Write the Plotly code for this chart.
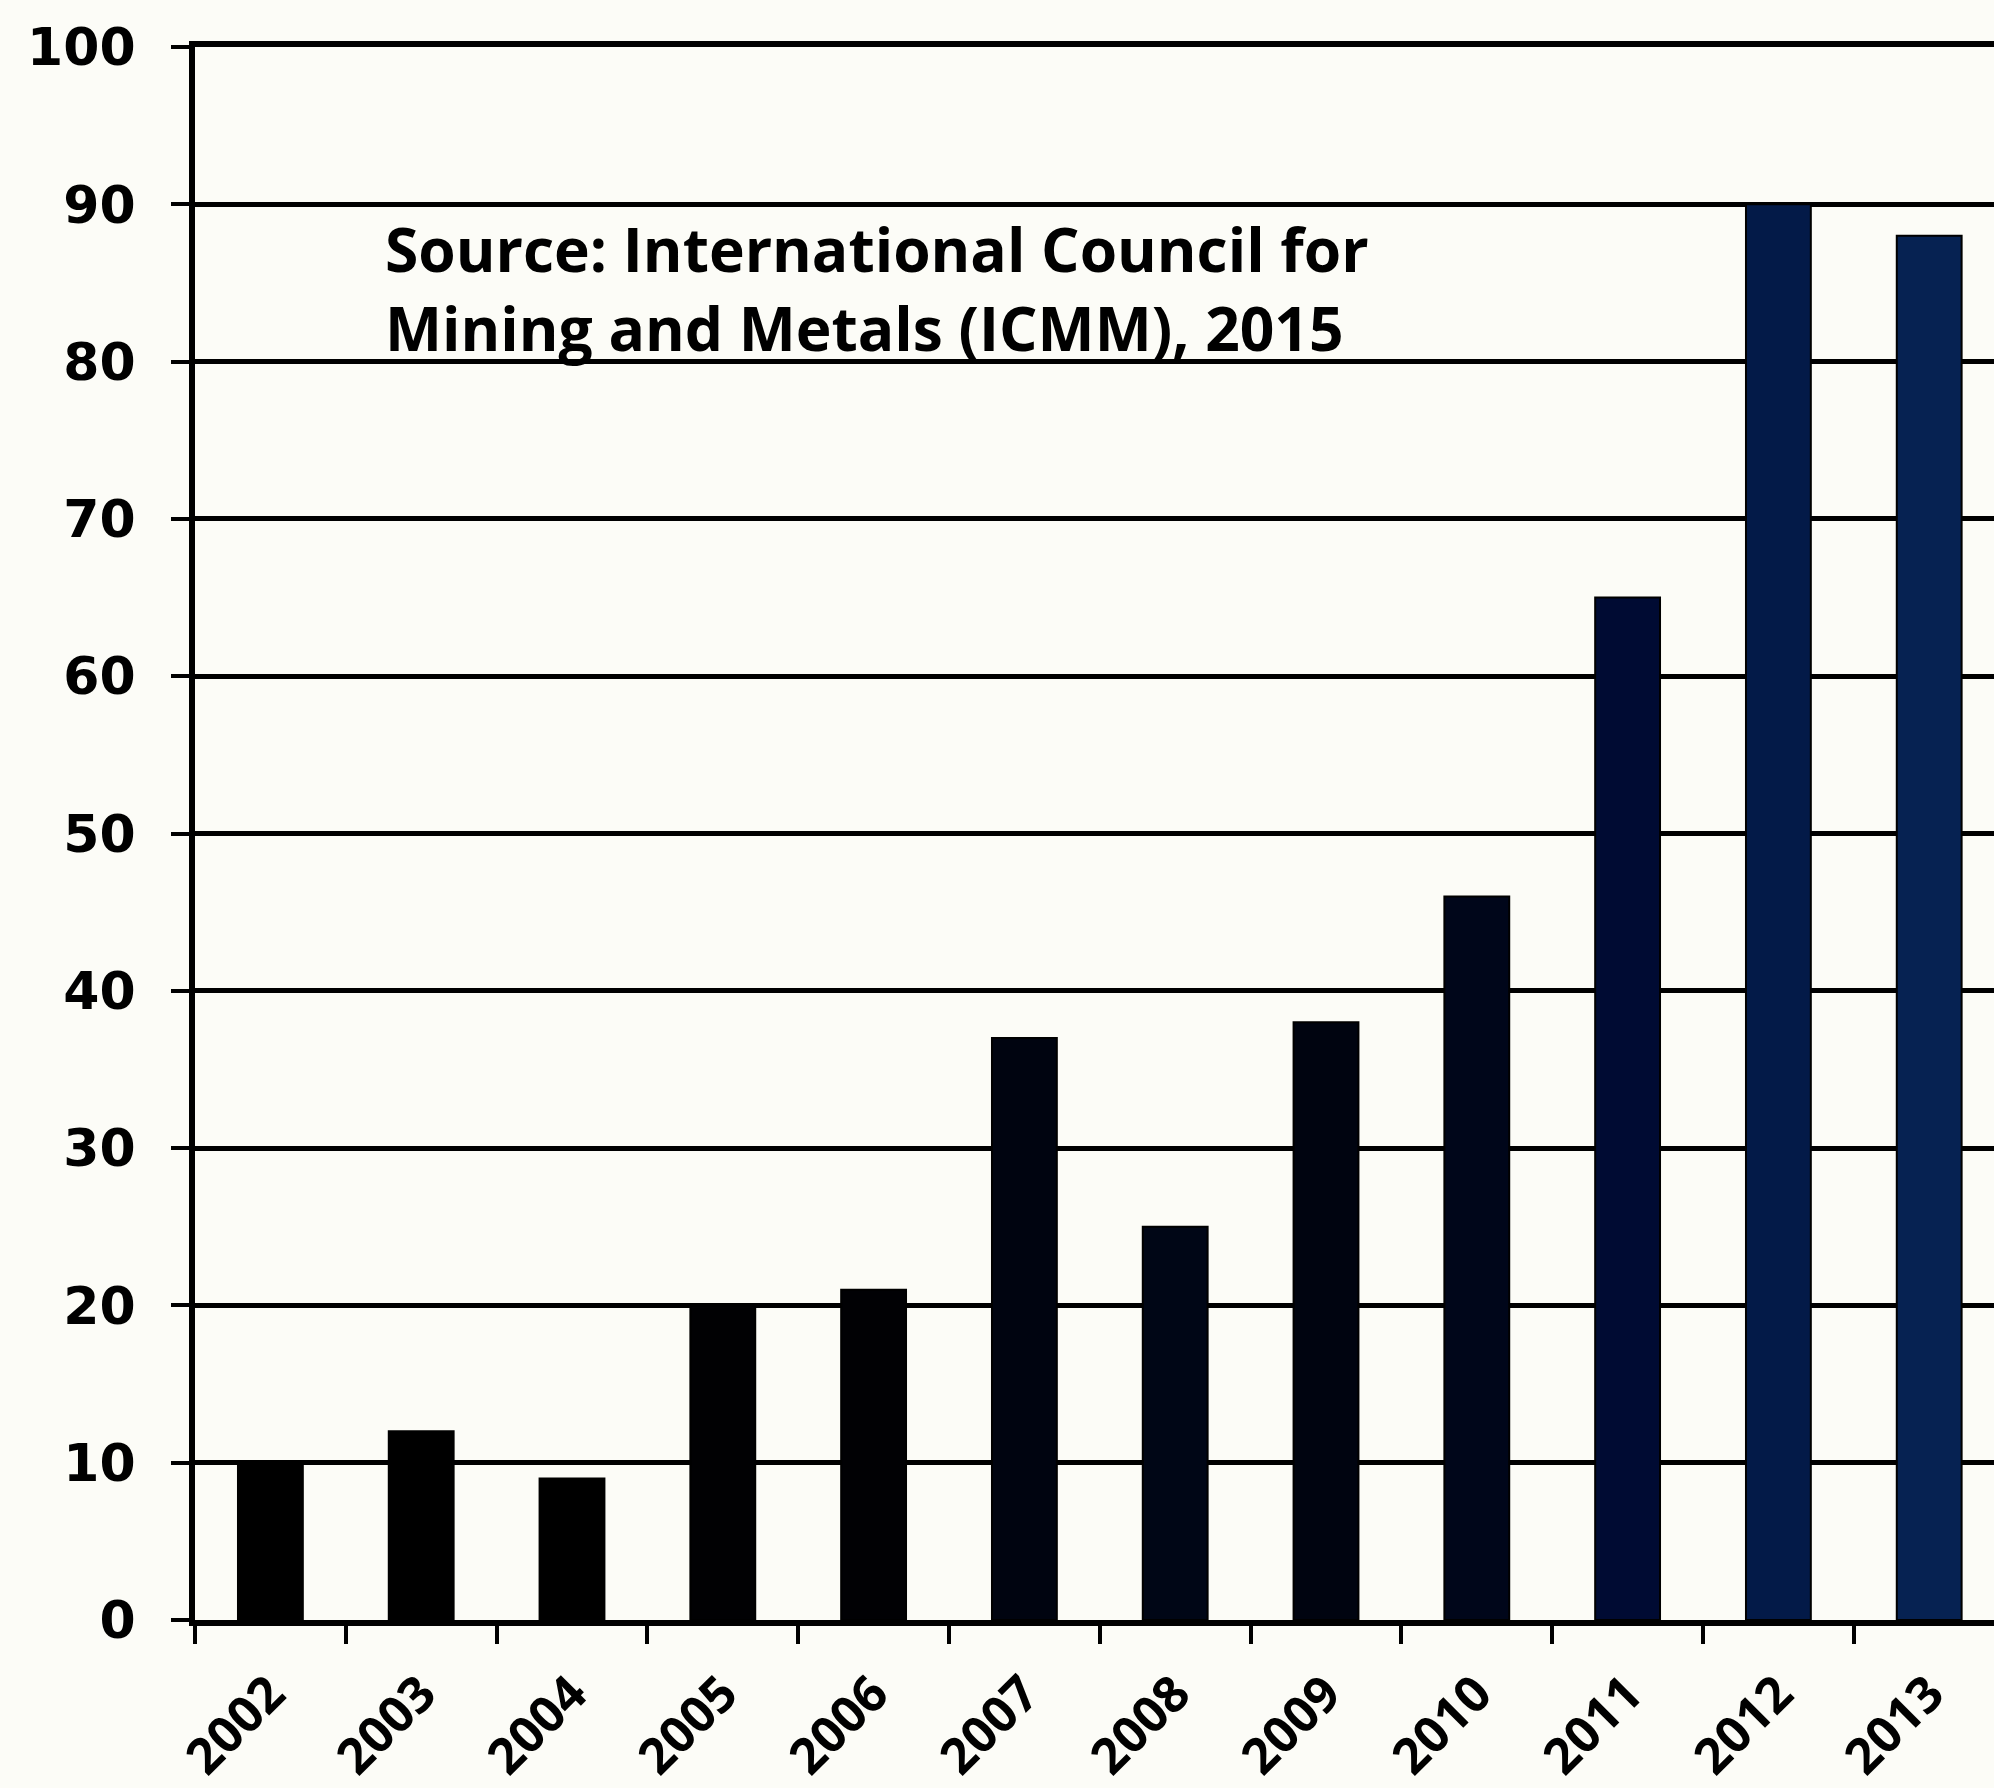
import plotly.graph_objects as go

# Annual values by year
years = ["2002", "2003", "2004", "2005", "2006", "2007",
         "2008", "2009", "2010", "2011", "2012", "2013"]
values = [10, 12, 9, 20, 21, 37, 25, 38, 46, 65, 90, 88]

y_ticks = [0, 10, 20, 30, 40, 50, 60, 70, 80, 90, 100]

source_text = ("Source: International Council for<br>"
               "Mining and Metals (ICMM), 2015")

# bar fills darken from navy to black going back in time
bar_colors = ["#000000", "#000000", "#000000", "#010103", "#010104",
              "#000410", "#000616", "#000410", "#00061a",
              "#000b33", "#031a48", "#062252"]

BG = "#fcfcf7"
W, H = 1994, 1788

fig = go.Figure()
fig.add_trace(go.Bar(
    x=years,
    y=values,
    width=0.43,
    marker=dict(color=bar_colors, line=dict(color="#000000", width=2)),
    showlegend=False,
))

fig.add_annotation(
    text=source_text,
    xref="paper", yref="paper",
    x=(383 - 195) / (W - 195), y=(1624 - 205) / (1624 - 47),
    xanchor="left", yanchor="top", align="left",
    showarrow=False,
    font=dict(family="Open Sans", size=60.5, color="#000000", weight="bold"),
)

fig.update_layout(
    width=W, height=H,
    margin=dict(l=195, r=0, t=47, b=164),
    paper_bgcolor=BG, plot_bgcolor=BG,
    xaxis=dict(
        type="category",
        range=[-0.5, -0.5 + (W - 195) / 150.8],
        tickson="boundaries",
        ticks="outside", ticklen=18, tickwidth=4, tickcolor="#000000",
        showline=True, linecolor="#000000", linewidth=6, mirror=True,
        showgrid=False,
        tickangle=-45,
        ticklabelstandoff=18,
        tickfont=dict(family="Open Sans", size=50, color="#000000", weight="bold"),
    ),
    yaxis=dict(
        range=[0, 100],
        tickvals=y_ticks,
        ticks="outside", ticklen=18, tickwidth=4, tickcolor="#000000",
        showline=True, linecolor="#000000", linewidth=6,
        showgrid=True, gridcolor="#000000", gridwidth=5,
        zeroline=False,
        ticklabelstandoff=25,
        tickfont=dict(family="DejaVu Sans", size=52, color="#000000", weight="bold"),
    ),
)

fig.write_html("out.html")
